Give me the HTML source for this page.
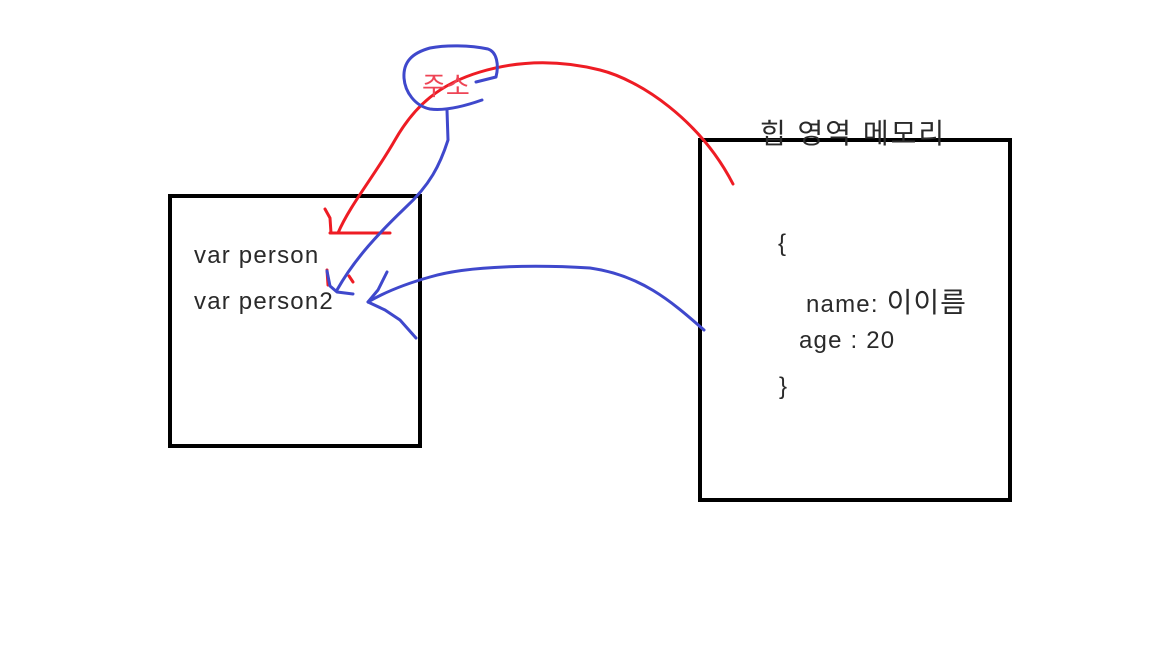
<!DOCTYPE html>
<html><head><meta charset="utf-8"><style>
body{margin:0;width:1152px;height:648px;background:#fff;overflow:hidden;position:relative;font-family:"Liberation Sans","Noto Sans CJK KR",sans-serif;color:#2a2a2a}
.t{position:absolute;white-space:nowrap;font-size:24px;letter-spacing:1.2px}
</style></head><body>
<svg width="1152" height="648" style="position:absolute;left:0;top:0">
<rect x="170" y="196" width="250" height="250" fill="none" stroke="#000" stroke-width="4"/>
<rect x="700" y="140" width="310" height="360" fill="none" stroke="#000" stroke-width="4"/>
<g fill="none" stroke="#ee1c24" stroke-width="3" stroke-linejoin="round" stroke-linecap="round">
<path d="M733,184 C700,120 640,80 600,70 C560,60 520,60 480,72 C440,84 415,105 395,140 C375,175 350,205 338,233"/>
<polyline points="330,233 390,233"/>
<polyline points="325,209 330,218 331,233"/>
<polyline points="327,270 328,285"/>
<polyline points="349,276 353,282"/>
</g>
<g fill="none" stroke="#3f48cc" stroke-width="3" stroke-linejoin="round" stroke-linecap="round">
<path d="M476,82 L496,77 C499,65 497,52 488,49 C470,45 445,45 430,48 C412,53 403,62 404,78 C405,92 415,106 430,109 C445,111 465,106 482,100"/>
<path d="M447,110 L448,140 C440,165 430,185 405,208 C380,232 355,258 337,290"/>
<polyline points="327,271 330,286 337,292 353,294"/>
<path d="M704,330 C670,300 640,275 590,268 C540,265 470,265 430,277 C405,284 385,292 368,302"/>
<polyline points="387,272 378,290 368,302 385,310 400,320 416,338"/>
</g>
</svg>
<div class="t" style="left:422px;top:66px;color:#ee4455;font-size:26px;letter-spacing:0">주소</div>
<div class="t" style="left:194px;top:242px">var person</div>
<div class="t" style="left:194px;top:288px">var person2</div>
<div class="t" style="left:760px;top:112px;font-size:28px;letter-spacing:2px">힙 영역 메모리</div>
<div class="t" style="left:778px;top:230px">{</div>
<div class="t" style="left:806px;top:281px">name: <span style="font-size:28px;letter-spacing:1px">이이름</span></div>
<div class="t" style="left:799px;top:327px">age : 20</div>
<div class="t" style="left:779px;top:373px">}</div>
</body></html>
